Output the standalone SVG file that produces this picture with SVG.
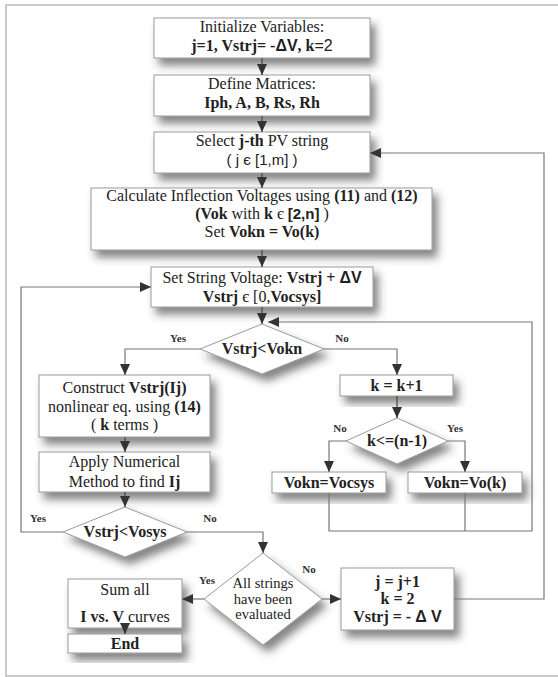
<svg xmlns="http://www.w3.org/2000/svg" width="558" height="677" viewBox="0 0 558 677">
<defs>
<filter id="sh" x="-20%" y="-30%" width="150%" height="180%">
<feDropShadow dx="5" dy="7" stdDeviation="4" flood-color="#333" flood-opacity="0.6"/>
</filter>
<marker id="ah" markerUnits="userSpaceOnUse" markerWidth="11" markerHeight="10" refX="11" refY="5" orient="auto">
<path d="M0,0 L11,5 L0,10 z" fill="#333"/>
</marker>
<style>
.box{fill:#fff;stroke:#999;stroke-width:1;filter:url(#sh)}
.t{font-family:"Liberation Serif","Times New Roman",serif;font-size:16px;fill:#222;text-anchor:middle}
.b{font-weight:bold}
.s{font-family:"Liberation Sans",Arial,sans-serif}
.lab{font-family:"Liberation Serif","Times New Roman",serif;font-size:11px;font-weight:bold;fill:#333;text-anchor:middle}
.c{fill:none;stroke:#777;stroke-width:1.2}
.cd{fill:none;stroke:#444;stroke-width:1.2}
.frame{fill:none;stroke:#bbb;stroke-width:1.5}
</style>
</defs>
<rect width="558" height="677" fill="#fff"/>
<path class="frame" d="M558,5 H6 V676 H558"/>

<g id="n1">
<rect class="box" x="154" y="18" width="216" height="40"/>
<text class="t" x="262" y="32">Initialize Variables:</text>
<text class="t" x="262" y="51"><tspan class="b">j=1, Vstrj= -</tspan><tspan class="b s">ΔV</tspan><tspan class="b">, k</tspan><tspan class="s">=2</tspan></text>
</g>
<g id="n2">
<rect class="box" x="154" y="75" width="216" height="41"/>
<text class="t" x="262" y="89">Define Matrices:</text>
<text class="t b" x="262" y="108">Iph, A, B, Rs, Rh</text>
</g>
<g id="n3">
<rect class="box" x="154" y="132" width="216" height="41"/>
<text class="t" x="262" y="146">Select <tspan class="b">j-th</tspan> PV string</text>
<text class="t s" x="262" y="165" style="font-size:15px">( j є [1,m] )</text>
</g>
<g id="n4">
<rect class="box" x="91" y="188" width="341" height="62"/>
<text class="t" x="262" y="201">Calculate Inflection Voltages using <tspan class="b">(11)</tspan> and <tspan class="b">(12)</tspan></text>
<text class="t" x="262" y="219"><tspan class="b">(Vok</tspan> with <tspan class="b">k</tspan> є <tspan class="s b" style="font-size:15px">[2,n]</tspan> )</text>
<text class="t" x="262" y="237">Set <tspan class="b">Vokn = Vo(k)</tspan></text>
</g>
<g id="n5">
<rect class="box" x="151" y="267" width="222" height="40"/>
<text class="t" x="262" y="283">Set String Voltage: <tspan class="b">Vstrj + </tspan><tspan class="b s">ΔV</tspan></text>
<text class="t" x="262" y="302"><tspan class="b">Vstrj</tspan> є [0,<tspan class="b">Vocsys]</tspan></text>
</g>
<g id="d1">
<polygon class="box" points="262,324 324,349 262,374 200,349"/>
<text class="t b" x="262" y="354">Vstrj&lt;Vokn</text>
</g>
<g id="n6">
<rect class="box" x="39" y="375" width="171" height="62"/>
<text class="t" x="124.5" y="393">Construct <tspan class="b">Vstrj(Ij)</tspan></text>
<text class="t" x="124.5" y="412">nonlinear eq. using <tspan class="b">(14)</tspan></text>
<text class="t" x="124.5" y="430">( <tspan class="b">k</tspan> terms )</text>
</g>
<g id="n7">
<rect class="box" x="39" y="452" width="171" height="40"/>
<text class="t" x="124.5" y="467">Apply Numerical</text>
<text class="t" x="124.5" y="487">Method to find <tspan class="b">Ij</tspan></text>
</g>
<g id="d2">
<polygon class="box" points="125,507 187,532 125,557 63,532"/>
<text class="t b" x="125" y="537">Vstrj&lt;Vosys</text>
</g>
<g id="n8">
<rect class="box" x="340" y="375" width="113" height="21"/>
<text class="t b" x="396.5" y="391">k = k+1</text>
</g>
<g id="d3">
<polygon class="box" points="397,418 448,441 397,464 346,441"/>
<text class="t b" x="397" y="446">k&lt;=(n-1)</text>
</g>
<g id="n9">
<rect class="box" x="272" y="472" width="114" height="21"/>
<text class="t b" x="329" y="488">Vokn=Vocsys</text>
</g>
<g id="n10">
<rect class="box" x="408" y="472" width="114" height="21"/>
<text class="t b" x="465" y="488">Vokn=Vo(k)</text>
</g>
<g id="d4">
<polygon class="box" points="263,553 322,599 263,645 204,599"/>
<text class="t" x="263" y="588" style="font-size:14.5px">All strings</text>
<text class="t" x="263" y="603.5" style="font-size:14.5px">have been</text>
<text class="t" x="263" y="619" style="font-size:14.5px">evaluated</text>
</g>
<g id="n11">
<rect class="box" x="68" y="579" width="114" height="49"/>
<text class="t" x="125" y="595">Sum all</text>
<text class="t" x="125" y="622"><tspan class="b">I vs. V</tspan> curves</text>
</g>
<g id="n12">
<rect class="box" x="68" y="634" width="114" height="19"/>
<text class="t b" x="125" y="649">End</text>
</g>
<g id="n13">
<rect class="box" x="341" y="568" width="113" height="62"/>
<text class="t b" x="397.5" y="587">j = j+1</text>
<text class="t b" x="397.5" y="604">k = 2</text>
<text class="t b" x="397.5" y="622">Vstrj = - <tspan class="s">Δ V</tspan></text>
</g>

<g id="connectors">
<path class="cd" d="M262,58 V75" marker-end="url(#ah)"/>
<path class="cd" d="M262,116 V132" marker-end="url(#ah)"/>
<path class="cd" d="M262,173 V188" marker-end="url(#ah)"/>
<path class="cd" d="M262,250 V267" marker-end="url(#ah)"/>
<path class="cd" d="M262,307 V324" marker-end="url(#ah)"/>
<path class="c" d="M200,349 H125 V375" marker-end="url(#ah)"/>
<path class="c" d="M324,349 H397 V375" marker-end="url(#ah)"/>
<path class="cd" d="M125,437 V452" marker-end="url(#ah)"/>
<path class="cd" d="M125,492 V507" marker-end="url(#ah)"/>
<path class="c" d="M63,532 H21 V287 H151" marker-end="url(#ah)"/>
<path class="c" d="M187,532 H263 V553" marker-end="url(#ah)"/>
<path class="cd" d="M397,396 V418" marker-end="url(#ah)"/>
<path class="c" d="M346,441 H329 V472" marker-end="url(#ah)"/>
<path class="c" d="M448,441 H465 V472" marker-end="url(#ah)"/>
<path class="c" d="M329,493 V531 H532 V322 H268" marker-end="url(#ah)"/>
<path class="c" d="M465,493 V531"/>
<path class="c" d="M204,599 H182" marker-end="url(#ah)"/>
<path class="c" d="M322,599 H341" marker-end="url(#ah)"/>
<path class="cd" d="M125,628 V634" marker-end="url(#ah)"/>
<path class="c" d="M454,599 H544 V153 H370" marker-end="url(#ah)"/>
<text class="lab" x="178" y="342">Yes</text>
<text class="lab" x="342" y="342">No</text>
<text class="lab" x="38" y="522">Yes</text>
<text class="lab" x="210" y="522">No</text>
<text class="lab" x="340" y="432">No</text>
<text class="lab" x="455" y="432">Yes</text>
<text class="lab" x="207" y="584">Yes</text>
<text class="lab" x="309" y="573">No</text>
</g>
</svg>
